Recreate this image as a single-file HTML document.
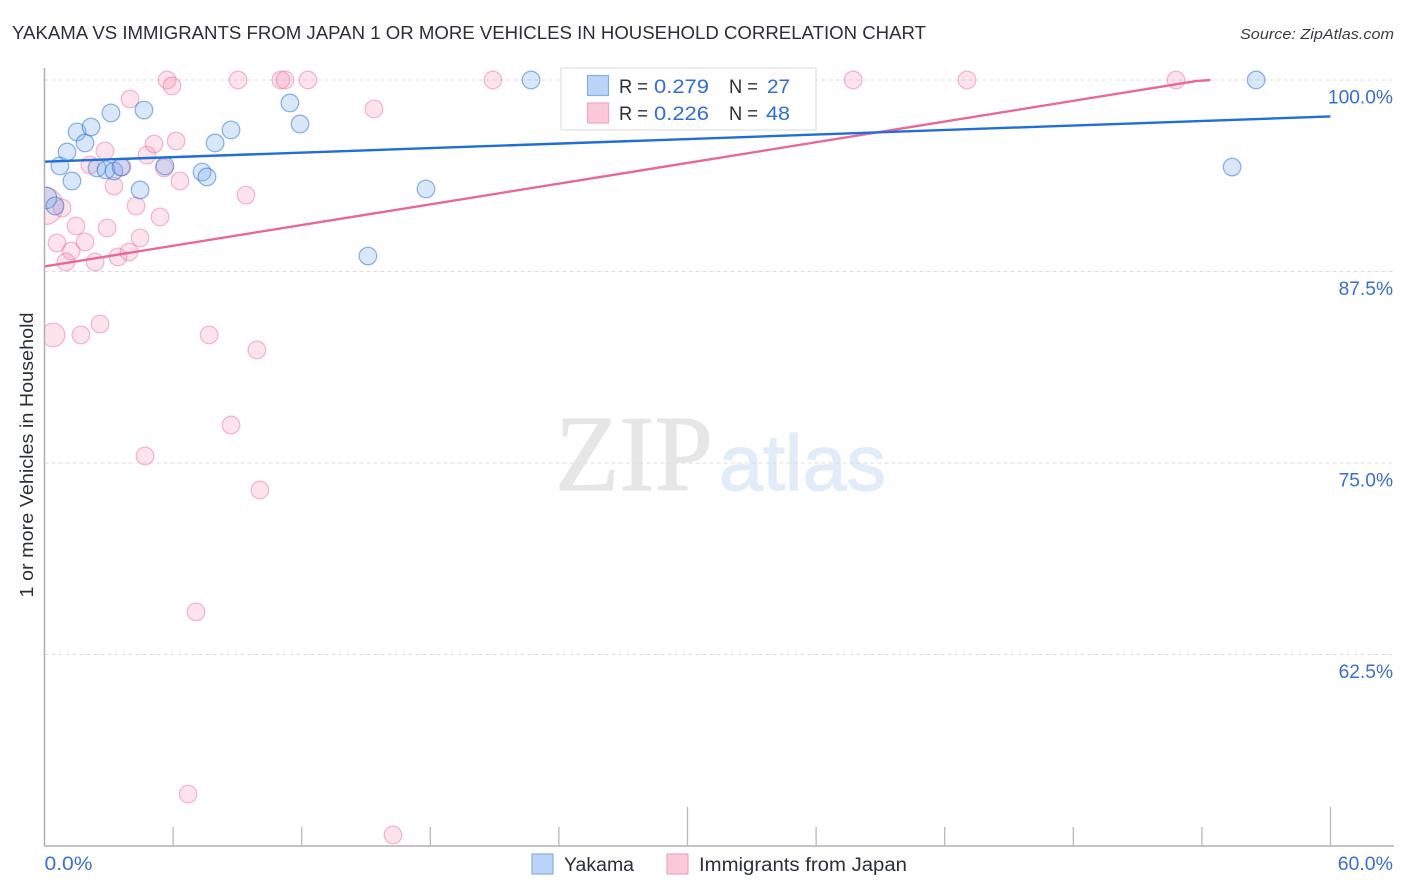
<!DOCTYPE html>
<html lang="en">
<head>
<meta charset="utf-8">
<title>Yakama vs Immigrants from Japan chart</title>
<style>
html,body{margin:0;padding:0;background:#fff;}
svg{display:block;font-family:"Liberation Sans",sans-serif;}
</style>
</head>
<body>
<svg id="chart" width="1406" height="892" viewBox="0 0 1406 892" xmlns="http://www.w3.org/2000/svg">
<text x="12" y="39" font-size="18.5" fill="#2b2f36" textLength="914" lengthAdjust="spacingAndGlyphs">YAKAMA VS IMMIGRANTS FROM JAPAN 1 OR MORE VEHICLES IN HOUSEHOLD CORRELATION CHART</text>
<text x="1394" y="39" font-size="15" font-style="italic" fill="#3a3d42" text-anchor="end" textLength="154" lengthAdjust="spacingAndGlyphs">Source: ZipAtlas.com</text>

<g>
<text x="555" y="490" font-family="'Liberation Serif',serif" font-size="108" fill="#e6e6e6" stroke="#e6e6e6" stroke-width="1" textLength="158" lengthAdjust="spacingAndGlyphs">ZIP</text>
<text x="719" y="490" font-size="79" fill="#e2ecf9" stroke="#e2ecf9" stroke-width="1.2" textLength="167" lengthAdjust="spacingAndGlyphs">atlas</text>
</g>

<g id="grid-layer"></g>
<g id="points-layer"></g>
<rect x="10" y="60" width="34.5" height="786" fill="#ffffff"/>
<g id="lines-layer"></g>
<g id="axis-layer"></g>

<text transform="translate(33,455) rotate(-90)" font-size="18" fill="#2b2f36" text-anchor="middle" textLength="285" lengthAdjust="spacingAndGlyphs">1 or more Vehicles in Household</text>

<g>
<rect x="561" y="68" width="255" height="62" fill="#ffffff" fill-opacity="0.86" stroke="#e6e6e6" stroke-width="1.5"/>
<rect x="587.5" y="75.5" width="21" height="20" fill="#b9d4f7" stroke="#86aee0" stroke-width="1.2"/>
<rect x="587.5" y="103" width="21" height="20" fill="#fcc9da" stroke="#f2a6bf" stroke-width="1.2"/>
<g font-size="19.5">
<text x="619" y="93" fill="#2b2f36" textLength="29" lengthAdjust="spacingAndGlyphs">R =</text>
<text x="654" y="93" fill="#2f6fd2" textLength="55" lengthAdjust="spacingAndGlyphs">0.279</text>
<text x="729" y="93" fill="#2b2f36" textLength="29" lengthAdjust="spacingAndGlyphs">N =</text>
<text x="767" y="93" fill="#2f6fd2" textLength="23" lengthAdjust="spacingAndGlyphs">27</text>
<text x="619" y="120" fill="#2b2f36" textLength="29" lengthAdjust="spacingAndGlyphs">R =</text>
<text x="654" y="120" fill="#2f6fd2" textLength="55" lengthAdjust="spacingAndGlyphs">0.226</text>
<text x="729" y="120" fill="#2b2f36" textLength="29" lengthAdjust="spacingAndGlyphs">N =</text>
<text x="766" y="120" fill="#2f6fd2" textLength="24" lengthAdjust="spacingAndGlyphs">48</text>
</g>
</g>

<g>
<g>
<rect x="532" y="854" width="21" height="20" fill="#b9d4f7" stroke="#86aee0" stroke-width="1.2"/>
<text x="564" y="871" font-size="19" fill="#2b2f36" textLength="70" lengthAdjust="spacingAndGlyphs">Yakama</text>
</g>
<g>
<rect x="667" y="854" width="21" height="20" fill="#fcc9da" stroke="#f2a6bf" stroke-width="1.2"/>
<text x="699" y="871" font-size="19" fill="#2b2f36" textLength="208" lengthAdjust="spacingAndGlyphs">Immigrants from Japan</text>
</g>
</g>
</svg>
<script>
var yTickValues = [100, 87.5, 75, 62.5];
var yTickLabels = ["100.0%", "87.5%", "75.0%", "62.5%"];
var xTickValues = [0, 6, 12, 18, 24, 30, 36, 42, 48, 54, 60];
var xEndLabels = ["0.0%", "60.0%"];

var yakamaX = [0.07,0.49,0.72,1.05,1.28,1.52,1.89,2.17,2.45,2.87,3.24,3.57,3.10,4.64,4.46,5.62,7.35,7.58,7.96,8.70,11.45,11.92,15.09,17.80,22.70,55.41,56.53];
var yakamaY = [92.30,91.78,94.39,95.30,93.41,96.61,95.89,96.93,94.26,94.13,94.06,94.32,97.85,98.04,92.82,94.39,93.99,93.67,95.89,96.74,98.50,97.13,88.51,92.89,100,94.32,100];
var yakamaWeight = [1.5,1,1,1,1,1,1,1,1,1,1,1,1,1,1,1,1,1,1,1,1,1,1,1,1,1,1];

var japanX = [0,0.82,1.47,0.58,1.24,1.00,1.89,2.36,2.92,3.43,3.94,4.46,5.39,4.27,3.24,6.32,5.58,3.62,2.12,2.82,4.78,5.11,6.14,3.99,5.72,5.95,9.03,11.03,11.22,12.29,9.40,0.40,1.70,2.59,7.68,9.91,15.37,20.92,34.32,37.73,43.04,52.79,8.70,4.69,10.05,7.07,6.70,16.26];
var japanY = [91.78,91.64,90.47,89.36,88.84,88.12,89.43,88.12,90.34,88.45,88.77,89.69,91.06,91.78,93.08,93.41,94.26,94.32,94.45,95.37,95.10,95.82,96.02,98.76,100,99.61,100,100,100,100,92.49,83.36,83.36,84.07,83.36,82.38,98.11,100,100,100,100,100,77.48,75.46,73.24,65.28,53.39,50.72];
var japanWeight = [4.5,1,1,1,1,1,1,1,1,1,1,1,1,1,1,1,1,1,1,1,1,1,1,1,1,1,1,1,1,1,1,1.8,1,1,1,1,1,1,1,1,1,1,1,1,1,1,1,1];

var yakamaTrendX = [0, 60];
var yakamaTrendY = [94.67, 97.62];
var japanTrendX = [0, 53.73, 54.4];
var japanTrendY = [87.83, 99.93, 100];

var NS = "http://www.w3.org/2000/svg";
function xScale(v) { return 44.5 + v * (1286 / 60); }
function yScale(v) { return 80 + (100 - v) * (191.5 / 12.5); }
function rScale(w) { return 8.8 * Math.sqrt(w); }
function make(tag, attrs, parent) {
  var el = document.createElementNS(NS, tag);
  for (var k in attrs) { el.setAttribute(k, attrs[k]); }
  parent.appendChild(el);
  return el;
}

var gridLayer = document.getElementById("grid-layer");
var axisLayer = document.getElementById("axis-layer");
var pointsLayer = document.getElementById("points-layer");
var linesLayer = document.getElementById("lines-layer");

yTickValues.forEach(function (v, i) {
  var line = make("line", {x1: 44.5, x2: 1393, y1: yScale(v), y2: yScale(v), stroke: "#dcdcdc", "stroke-width": 1, "stroke-dasharray": "4 3"}, gridLayer);
  
  
  var label = make("text", {x: 1393, y: yScale(v) + 23.5, "font-size": 19.2, fill: "#3a6fd0", "text-anchor": "end"}, axisLayer);
  
  
  label.textContent = yTickLabels[i];
});

var yAxis = make("line", {x1: 44.5, x2: 44.5, y1: 68, y2: 846.5, stroke: "#b0b0b0", "stroke-width": 1.5}, axisLayer);


var xAxis = make("line", {x1: 44, x2: 1394, y1: 846, y2: 846, stroke: "#b0b0b0", "stroke-width": 1.5}, axisLayer);



xTickValues.forEach(function (v) {
  if (v === 0) { return; }
  var major = v % 30 === 0;
  var tick = make("line", {x1: xScale(v), x2: xScale(v), y1: major ? 807 : 827, y2: 846, stroke: "#b8b8b8", "stroke-width": 1.3}, axisLayer);
  
  
});

var xLabelStart = make("text", {x: 44.5, y: 870, "font-size": 19.5, fill: "#3a6fd0", textLength: 48, lengthAdjust: "spacingAndGlyphs"}, axisLayer);


xLabelStart.textContent = xEndLabels[0];
var xLabelEnd = make("text", {x: 1393, y: 870, "font-size": 19.5, fill: "#3a6fd0", "text-anchor": "end"}, axisLayer);


xLabelEnd.textContent = xEndLabels[1];

japanX.forEach(function (v, i) {
  var dot = make("circle", {cx: xScale(v), cy: yScale(japanY[i]), r: rScale(japanWeight[i]), fill: "rgba(243,140,175,0.24)", stroke: "rgba(232,110,155,0.45)", "stroke-width": 1.3}, pointsLayer);
  
  
});
yakamaX.forEach(function (v, i) {
  var dot = make("circle", {cx: xScale(v), cy: yScale(yakamaY[i]), r: rScale(yakamaWeight[i]), fill: "rgba(125,175,240,0.30)", stroke: "rgba(45,110,210,0.5)", "stroke-width": 1.3}, pointsLayer);
  
  
});

function trendPath(xs, ys) {
  return xs.map(function (v, i) { return (i ? "L" : "M") + xScale(v) + " " + yScale(ys[i]); }).join(" ");
}
var japanLine = make("path", {d: trendPath(japanTrendX, japanTrendY), fill: "none", stroke: "#e8689a", "stroke-width": 2.4}, linesLayer);


var yakamaLine = make("path", {d: trendPath(yakamaTrendX, yakamaTrendY), fill: "none", stroke: "#1f6fd6", "stroke-width": 2.4}, linesLayer);


</script>
</body>
</html>
